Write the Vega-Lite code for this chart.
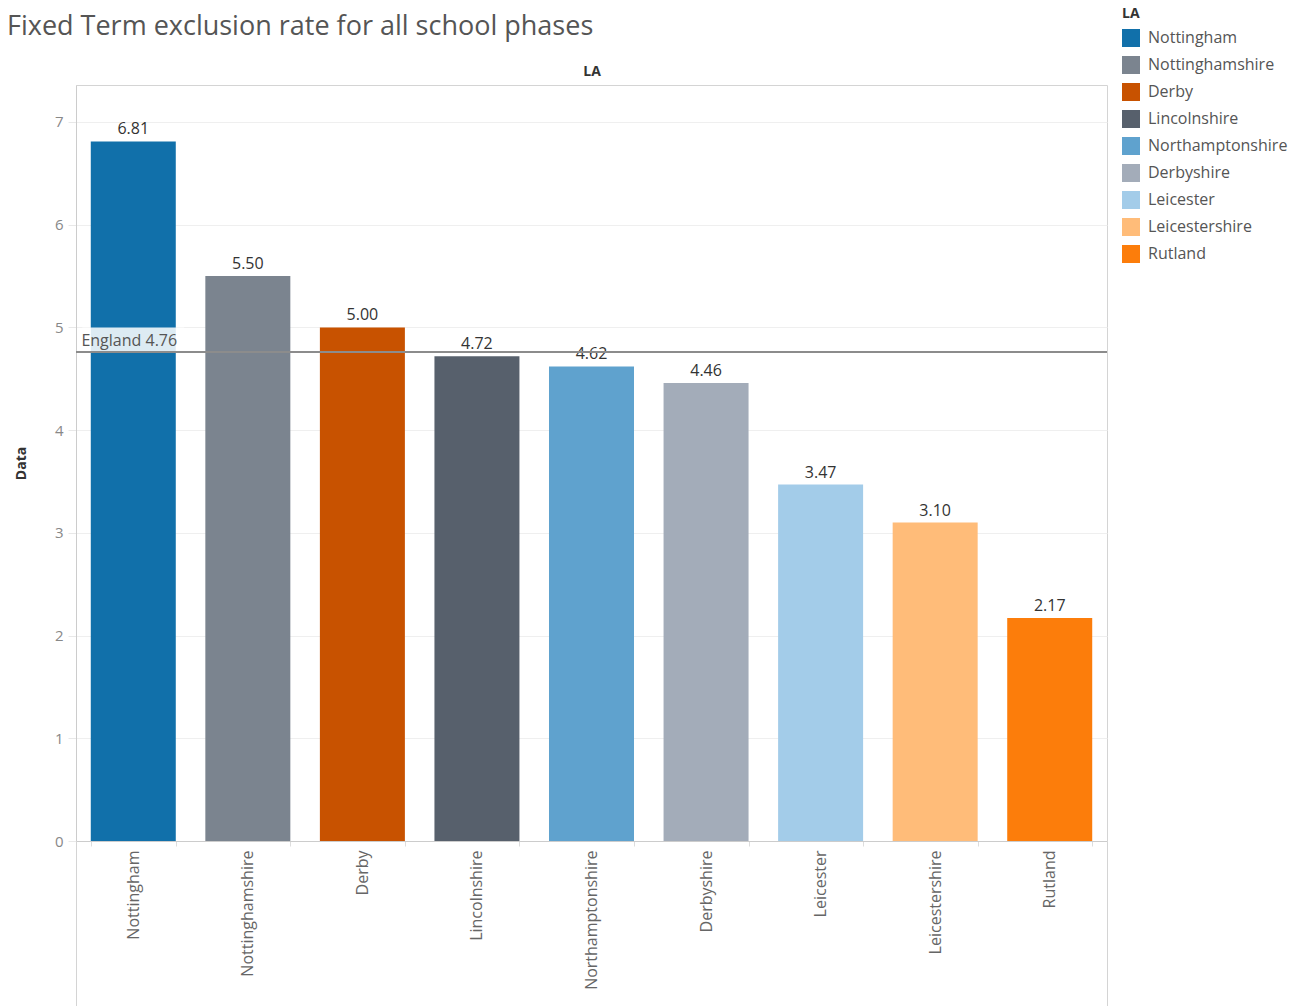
{
  "$schema": "https://vega.github.io/schema/vega-lite/v6.json",
  "autosize": {"type": "none"},
  "width": 1031,
  "height": 921,
  "padding": {"left": 76, "top": 85, "right": 189, "bottom": 0},
  "background": "white",
  "title": {
    "text": "Fixed Term exclusion rate for all school phases",
    "anchor": "start",
    "frame": "group",
    "baseline": "alphabetic",
    "dx": -69,
    "dy": 59,
    "fontSize": 27,
    "font": "Open Sans",
    "fontWeight": "normal",
    "color": "#555555"
  },
  "config": {
    "font": "Open Sans",
    "view": {"stroke": "#d4d4d4"}
  },
  "datasets": {
    "rates": [
      {"LA": "Nottingham", "rate": 6.81},
      {"LA": "Nottinghamshire", "rate": 5.50},
      {"LA": "Derby", "rate": 5.00},
      {"LA": "Lincolnshire", "rate": 4.72},
      {"LA": "Northamptonshire", "rate": 4.62},
      {"LA": "Derbyshire", "rate": 4.46},
      {"LA": "Leicester", "rate": 3.47},
      {"LA": "Leicestershire", "rate": 3.10},
      {"LA": "Rutland", "rate": 2.17}
    ],
    "england": [
      {"area": "England", "rate": 4.76}
    ]
  },
  "layer": [
    {
      "data": {"name": "rates"},
      "mark": {"type": "bar"},
      "encoding": {
        "x": {
          "field": "LA",
          "type": "nominal",
          "sort": ["Nottingham", "Nottinghamshire", "Derby", "Lincolnshire", "Northamptonshire", "Derbyshire", "Leicester", "Leicestershire", "Rutland"],
          "scale": {"paddingInner": 0.258, "paddingOuter": 0.129},
          "axis": {
            "title": "LA",
            "orient": "bottom",
            "offset": -165,
            "labelAngle": -90,
            "labelFontSize": 16,
            "labelColor": "#666666",
            "labelPadding": 4,
            "tickBand": "extent",
            "tickSize": 5,
            "tickColor": "#dddddd",
            "domainColor": "#cccccc",
            "titleY": -770,
            "titleBaseline": "middle",
            "titleFontSize": 14,
            "titleFontWeight": "bold",
            "titleColor": "#333333"
          }
        },
        "y": {
          "field": "rate",
          "type": "quantitative",
          "scale": {"domain": [0, 7.36], "range": [756, 0], "nice": false},
          "axis": {
            "title": "Data",
            "values": [0, 1, 2, 3, 4, 5, 6, 7],
            "format": "d",
            "labelFontSize": 15,
            "labelColor": "#888888",
            "labelPadding": 5,
            "tickSize": 8,
            "tickColor": "#e8e8e8",
            "gridColor": "#efefef",
            "domainColor": "#cccccc",
            "titleFontSize": 14,
            "titleFontWeight": "bold",
            "titleColor": "#333333",
            "titleX": -55,
            "titleY": 378,
            "titleBaseline": "middle"
          }
        },
        "color": {
          "field": "LA",
          "type": "nominal",
          "scale": {
            "domain": ["Nottingham", "Nottinghamshire", "Derby", "Lincolnshire", "Northamptonshire", "Derbyshire", "Leicester", "Leicestershire", "Rutland"],
            "range": ["#1170aa", "#7b848f", "#c85200", "#57606c", "#5fa2ce", "#a3acb9", "#a3cce9", "#ffbc79", "#fc7d0b"]
          },
          "legend": {
            "title": "LA",
            "orient": "none",
            "legendX": 1046,
            "legendY": -78,
            "symbolType": "square",
            "symbolSize": 324,
            "symbolStrokeWidth": 0,
            "labelFontSize": 16,
            "labelColor": "#555555",
            "labelOffset": 8,
            "rowPadding": 9,
            "titlePadding": 8,
            "titleFontSize": 14,
            "titleFontWeight": "bold",
            "titleColor": "#333333"
          }
        }
      }
    },
    {
      "data": {"name": "rates"},
      "mark": {"type": "text", "baseline": "bottom", "dy": -4, "fontSize": 16, "color": "#333333"},
      "encoding": {
        "x": {"field": "LA", "type": "nominal", "sort": ["Nottingham", "Nottinghamshire", "Derby", "Lincolnshire", "Northamptonshire", "Derbyshire", "Leicester", "Leicestershire", "Rutland"]},
        "y": {"field": "rate", "type": "quantitative"},
        "text": {"field": "rate", "type": "quantitative", "format": ".2f"}
      }
    },
    {
      "data": {"name": "england"},
      "mark": {"type": "bar", "width": 102, "color": "white", "opacity": 0.86},
      "encoding": {
        "x": {"datum": "Nottingham"},
        "y": {"field": "rate", "type": "quantitative"},
        "y2": {"datum": 5.0}
      }
    },
    {
      "data": {"name": "england"},
      "transform": [
        {"calculate": "datum.area + ' ' + format(datum.rate, '.2f')", "as": "label"}
      ],
      "mark": {"type": "text", "baseline": "bottom", "dy": -3, "dx": -4, "fontSize": 16, "color": "#555555"},
      "encoding": {
        "x": {"datum": "Nottingham"},
        "y": {"field": "rate", "type": "quantitative"},
        "text": {"field": "label", "type": "nominal"}
      }
    },
    {
      "data": {"name": "england"},
      "mark": {"type": "rule", "color": "#8c8c8c", "strokeWidth": 2},
      "encoding": {
        "y": {"field": "rate", "type": "quantitative"}
      }
    }
  ]
}
